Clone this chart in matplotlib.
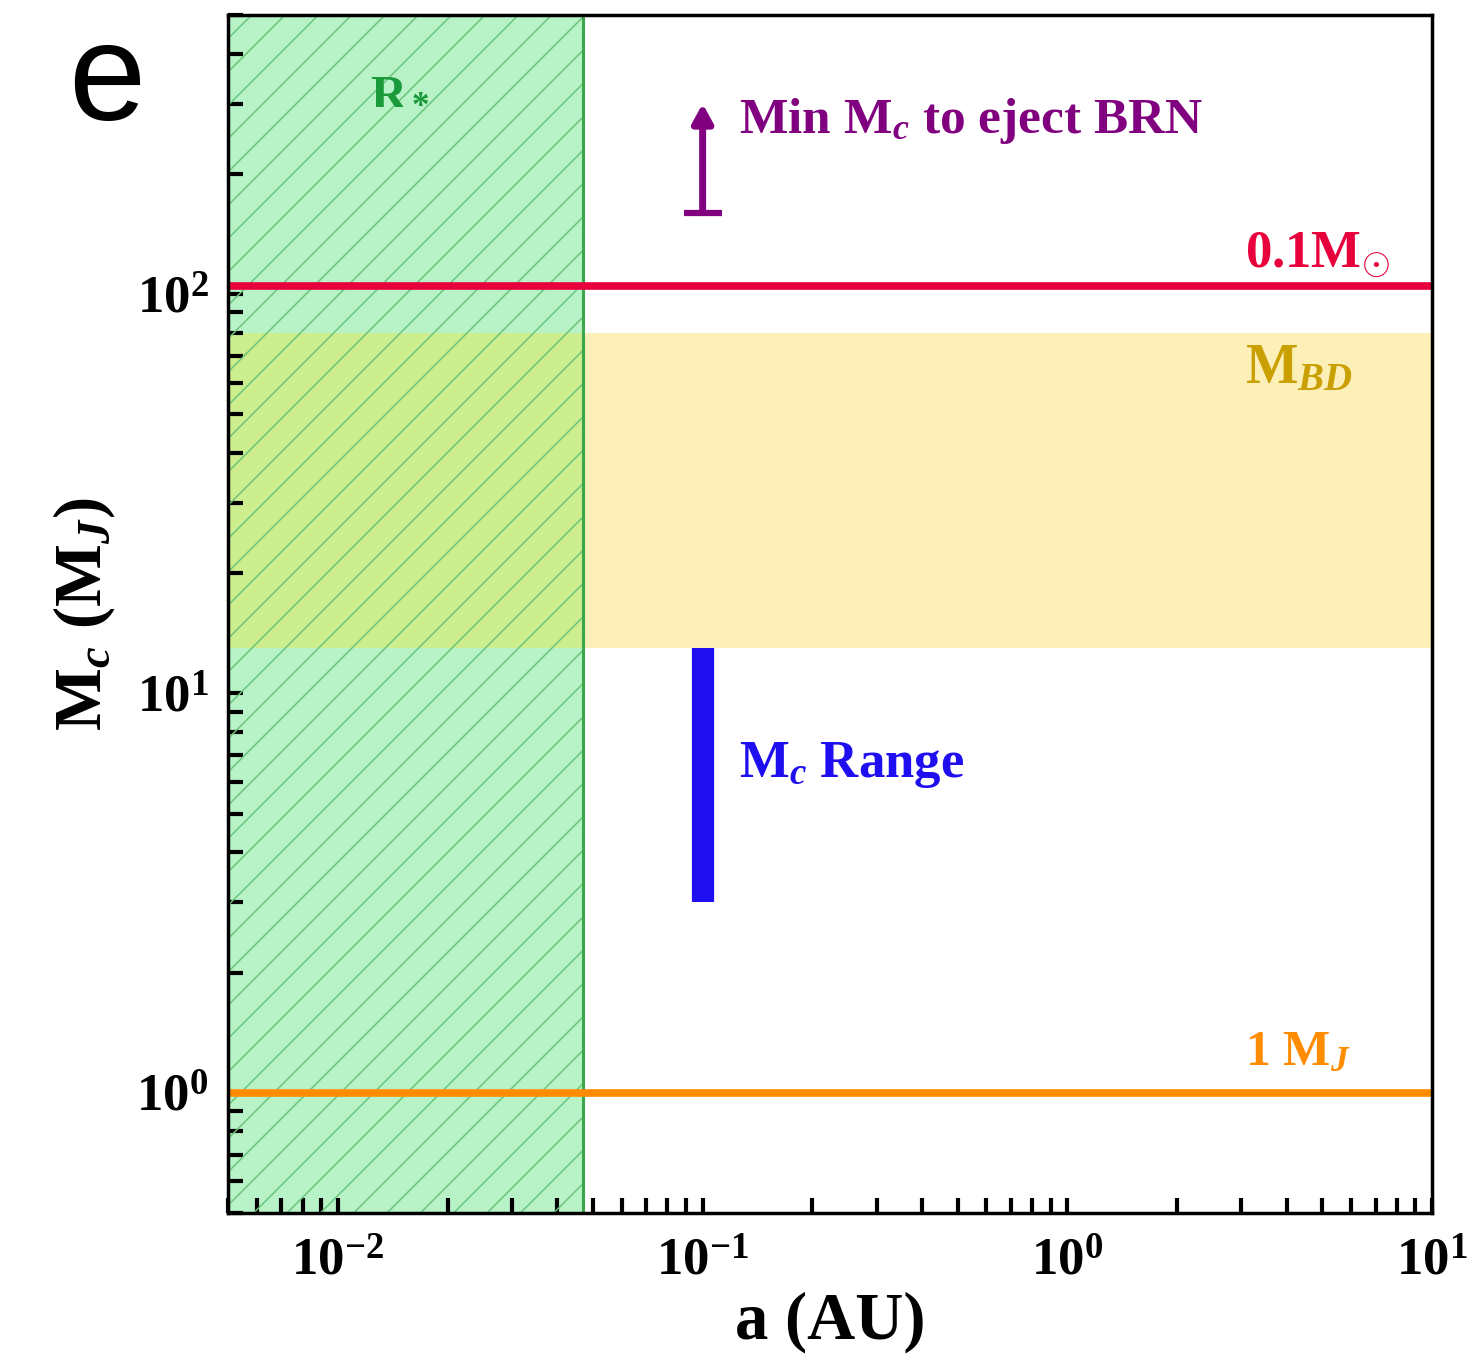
import matplotlib
matplotlib.use("Agg")
import matplotlib.pyplot as plt
from matplotlib.ticker import LogLocator, NullFormatter

# axis ranges
a_range = [0.005, 10.0]        # AU
mc_range_axis = [0.5, 500.0]   # M_J

# regions and reference masses
r_star = 0.047                 # AU, stellar radius region
m_bd = [13.0, 80.0]            # brown dwarf mass band (M_J)
m_01sun = 104.8                # 0.1 solar mass in M_J
m_jup = 1.0                    # 1 Jupiter mass
a_comp = 0.1                   # companion separation (AU)
mc_range = [3.0, 13.0]         # allowed companion mass range (M_J)
mc_eject = [160.0, 300.0]      # min companion mass to eject BRN (arrow)

plt.rcParams['font.family'] = ['Liberation Serif', 'DejaVu Serif']
plt.rcParams['font.weight'] = 'bold'
plt.rcParams['axes.labelweight'] = 'bold'
plt.rcParams['mathtext.fontset'] = 'custom'
plt.rcParams['mathtext.rm'] = 'Liberation Serif:bold'
plt.rcParams['mathtext.it'] = 'Liberation Serif:italic:bold'
plt.rcParams['mathtext.bf'] = 'Liberation Serif:bold'
plt.rcParams['hatch.linewidth'] = 1.1

fig = plt.figure(figsize=(14.81, 13.69), dpi=100)
ax = fig.add_axes([0.154, 0.114, 0.813, 0.875])
ax.set_xscale('log')
ax.set_yscale('log')
ax.set_xlim(a_range)
ax.set_ylim(mc_range_axis)

# shaded regions
ax.axvspan(a_range[0], r_star, color='#b8f3c8', lw=0, zorder=1)
ax.axhspan(m_bd[0], m_bd[1], color='#fcefb8', lw=0, zorder=1)
ax.fill_between([a_range[0], r_star], m_bd[0], m_bd[1], color='#cdee8e', lw=0, zorder=1.5)
ax.axvspan(a_range[0], r_star, facecolor='none', edgecolor='#6cc47a', hatch='/', lw=0, zorder=2)
ax.axvline(r_star, color='#3aa84a', lw=2.2, zorder=3)

# reference mass lines
ax.axhline(m_01sun, color='#e8003c', lw=5.5, zorder=4)
ax.axhline(m_jup, color='#ff8c00', lw=5.5, zorder=4)

# companion mass range
ax.plot([a_comp, a_comp], mc_range, color='#1f0ff0', lw=16, solid_capstyle='butt', zorder=5)

# arrow: min companion mass to eject BRN
ax.annotate('', xy=(a_comp, mc_eject[1]), xytext=(a_comp, mc_eject[0]),
            arrowprops=dict(arrowstyle='-|>,head_length=1.1,head_width=0.6',
                            color='#800080', lw=5, shrinkA=0, shrinkB=0), zorder=5)
ax.plot([a_comp], [mc_eject[0]], marker='_', markersize=28, mew=4.5, color='#800080', zorder=5)

# labels
ax.text(0.0148, 320, r'R$_*$', color='#1a9a3a', fontsize=36, ha='center', va='center', zorder=6)
ax.text(0.126, 271, r'Min M$_c$ to eject BRN', color='#800080', fontsize=37, ha='left', va='center', zorder=6)
ax.text(3.07, 126, r'0.1M$_{\odot}$', color='#e8003c', fontsize=38, ha='left', va='center', zorder=6)
ax.text(3.07, 65, r'M$_{BD}$', color='#c9a000', fontsize=40, ha='left', va='center', zorder=6)
ax.text(0.126, 6.6, r'M$_c$ Range', color='#1f0ff0', fontsize=38, ha='left', va='center', zorder=6)
ax.text(3.07, 1.26, r'1 M$_J$', color='#ff8c00', fontsize=36, ha='left', va='center', zorder=6)

ax.set_xlabel('a (AU)', fontsize=48, labelpad=4)
ax.set_ylabel(r'M$_c$ (M$_J$)', fontsize=48, labelpad=14)

# ticks
ax.xaxis.set_major_locator(LogLocator(base=10, numticks=10))
ax.xaxis.set_minor_locator(LogLocator(base=10, subs=range(2, 10), numticks=20))
ax.yaxis.set_major_locator(LogLocator(base=10, numticks=10))
ax.yaxis.set_minor_locator(LogLocator(base=10, subs=range(2, 10), numticks=20))
ax.xaxis.set_minor_formatter(NullFormatter())
ax.yaxis.set_minor_formatter(NullFormatter())
ax.tick_params(which='both', direction='in', length=11, width=3, top=False, right=False,
               labelsize=38, zorder=7)
ax.tick_params(axis='x', pad=18)
ax.tick_params(axis='y', pad=14)
for s in ax.spines.values():
    s.set_linewidth(2.5)
    s.set_zorder(8)

fig.text(0.046, 0.912, 'e', fontsize=100, family='Liberation Sans', fontweight='normal')

fig.savefig('out.png', dpi=100)
